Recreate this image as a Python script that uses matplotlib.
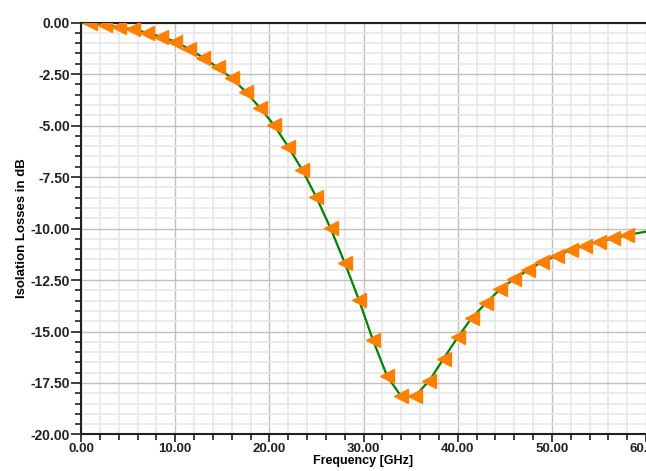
import numpy as np
import matplotlib
matplotlib.use('Agg')
import matplotlib.pyplot as plt
from matplotlib.ticker import MultipleLocator, FormatStrFormatter

plt.rcParams['font.family'] = ['Liberation Sans', 'DejaVu Sans']

# sweep points carrying a marker (GHz, dB)
freq = [1.0, 2.5, 4.0, 5.5, 7.0, 8.5, 10.0, 11.5, 13.0, 14.5,
        16.0, 17.5, 19.0, 20.5, 22.0, 23.5, 25.0, 26.5, 28.0, 29.5,
        31.0, 32.5, 34.0, 35.5, 37.0, 38.5, 40.0, 41.5, 43.0, 44.5,
        46.0, 47.5, 49.0, 50.5, 52.0, 53.5, 55.0, 56.5, 58.0]
loss = [-0.02, -0.12, -0.22, -0.33, -0.49, -0.69, -0.93, -1.29, -1.71, -2.18,
        -2.71, -3.36, -4.14, -4.98, -6.03, -7.16, -8.49, -9.99, -11.66, -13.45,
        -15.41, -17.16, -18.15, -18.12, -17.38, -16.32, -15.28, -14.34, -13.62, -12.95,
        -12.45, -12.01, -11.61, -11.33, -11.04, -10.83, -10.64, -10.48, -10.32]
# sweep end points (no marker)
f_start, l_start = 0.0, 0.0
f_stop, l_stop = 60.0, -10.15

line_f = [f_start] + freq + [f_stop]
line_l = [l_start] + loss + [l_stop]

fig = plt.figure(figsize=(6.46, 4.71), dpi=100)
ax = fig.add_axes([0.1254, 0.0775, 0.8746, 0.8747])

ax.plot(line_f, line_l, color='#008000', linewidth=1.6, zorder=3)
ax.plot(freq, loss, linestyle='none', marker='<', markersize=10,
        color='#ff8000', markeredgecolor='#ff8000', zorder=4)

ax.set_xlim(0, 60)
ax.set_ylim(-20, 0)
ax.xaxis.set_major_locator(MultipleLocator(10))
ax.xaxis.set_minor_locator(MultipleLocator(2))
ax.yaxis.set_major_locator(MultipleLocator(2.5))
ax.yaxis.set_minor_locator(MultipleLocator(0.5))
ax.xaxis.set_major_formatter(FormatStrFormatter('%.2f'))
ax.yaxis.set_major_formatter(FormatStrFormatter('%.2f'))

ax.grid(which='minor', color='#e8e8e8', linewidth=1.2, zorder=0)
ax.grid(which='major', color='#c0c0c0', linewidth=1.0, zorder=1)
ax.set_axisbelow(True)

for s in ['left', 'bottom', 'top']:
    ax.spines[s].set_color('#202020')
    ax.spines[s].set_linewidth(1.5)
ax.spines['right'].set_visible(False)

ax.tick_params(which='major', direction='out', length=7, width=1.2, color='#202020',
               labelsize=10, labelcolor='#222222', pad=1)
ax.tick_params(axis='x', which='major', length=6, pad=0, labelsize=9.5)
ax.tick_params(which='minor', direction='out', length=4, width=1.2, color='#202020')
for lab in ax.get_xticklabels() + ax.get_yticklabels():
    lab.set_fontweight('bold')

ax.set_xlabel('Frequency [GHz]', fontsize=9, fontweight='bold', labelpad=0)
ax.set_ylabel('Isolation Losses in dB', fontsize=9.5, fontweight='bold', labelpad=2)

fig.savefig('out.png', dpi=100)
